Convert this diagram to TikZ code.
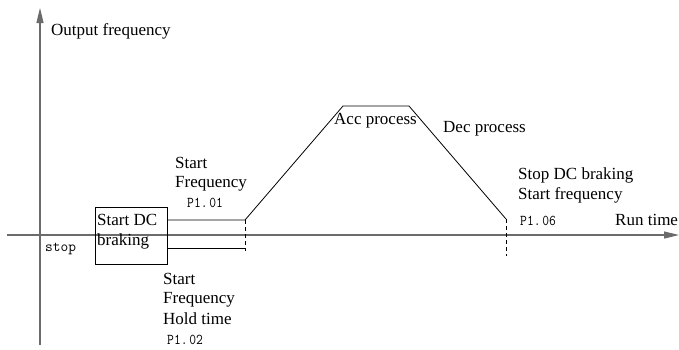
\documentclass[tikz,border=0pt]{standalone}
\usepackage{fontspec}
\setmainfont{Liberation Serif}
\usetikzlibrary{arrows.meta}
\definecolor{axisgray}{rgb}{0.42,0.42,0.42}
\newcommand{\pcode}[1]{\scalebox{0.88}[1]{#1}}
\begin{document}
\begin{tikzpicture}[x=1pt,y=-1pt,
  axisline/.style={draw=axisgray, line width=1.2pt, -{Triangle[length=15pt,width=7pt]}},
  curve/.style={draw=black, line width=0.8pt},
  dashline/.style={draw=black, line width=0.8pt, dash pattern=on 4pt off 3pt},
  lbl/.style={font=\fontsize{17}{19.5}\selectfont, inner sep=0pt, anchor=base west, align=left},
  mono/.style={font=\ttfamily\fontsize{15}{17}\selectfont, inner sep=0pt, anchor=base west},
  boxst/.style={draw=black, line width=0.8pt, minimum width=72pt, minimum height=57pt, inner sep=0pt, anchor=north west}]
\useasboundingbox (0,0) rectangle (679,349);
% axes
\coordinate (yb) at (40,345);
\coordinate (yt) at (40,8);
\coordinate (xl) at (7,235);
\coordinate (xr) at (679,235);
\draw[axisline] (yb) -- (yt);
\draw[axisline] (xl) -- (xr);
% box
\node[boxst] (box) at (95,207) {};
\coordinate (s1) at (245,220);
\coordinate (s2) at (245,248);
\coordinate (s3) at (245,251);
\coordinate (t1) at (343,106);
\coordinate (t2) at (409,106);
\coordinate (e1) at (506,219);
\coordinate (e2) at (506,256);
\draw[curve] (box.east |- s1) -- (s1) -- (t1) -- (t2) -- (e1);
\draw[curve] (box.east |- s2) -- (s2);
\draw[dashline] (s1) -- (s3);
\draw[dashline] (e1) -- (e2);
% labels
\node[lbl] (of) at (51,35) {Output frequency};
\node[lbl] (bx1) at (97,225) {Start DC};
\node[lbl] (bx2) at (97,245) {braking};
\node[mono] (stp) at (45,251) {stop};
\node[lbl] (sf1) at (175,168) {Start};
\node[lbl] (sf2) at (175,187) {Frequency};
\node[mono] (p101) at (187,207) {\pcode{P1.\kern2pt01}};
\node[lbl] (h1) at (163,284) {Start};
\node[lbl] (h2) at (163,303) {Frequency};
\node[lbl] (h3) at (163,324) {Hold time};
\node[mono] (p102) at (167,344) {\pcode{P1.\kern2pt02}};
\node[lbl] (acc) at (334,124) {Acc process};
\node[lbl] (dec) at (443,132) {Dec process};
\node[lbl] (sd1) at (518,179) {Stop DC braking};
\node[lbl] (sd2) at (518,199) {Start frequency};
\node[mono] (p106) at (520,225) {\pcode{P1.\kern2pt06}};
\node[lbl] (rt) at (615,225) {Run time};
\end{tikzpicture}
\end{document}
